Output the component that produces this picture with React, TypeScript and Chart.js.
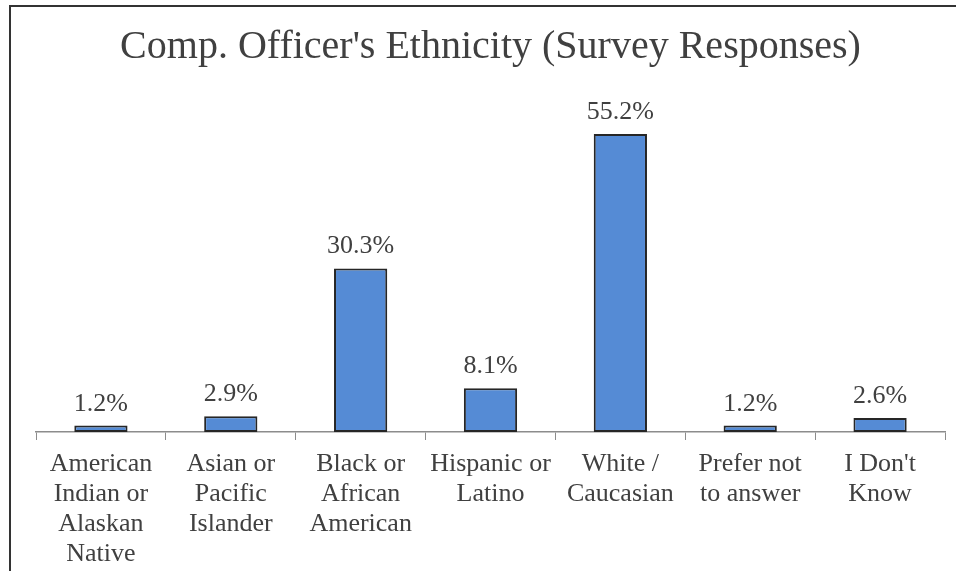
import React, { useEffect, useRef } from "react";
import { Chart, registerables } from "chart.js";

Chart.register(...registerables);

const categories: string[][] = [
  ["American", "Indian or", "Alaskan", "Native"],
  ["Asian or", "Pacific", "Islander"],
  ["Black or", "African", "American"],
  ["Hispanic or", "Latino"],
  ["White /", "Caucasian"],
  ["Prefer not", "to answer"],
  ["I Don't", "Know"],
];
const percentages: number[] = [1.2, 2.9, 30.3, 8.1, 55.2, 1.2, 2.6];
const titleText = "Comp. Officer's Ethnicity (Survey Responses)";

const FONT = "'Liberation Serif', 'Times New Roman', Times, serif";
const TEXT = "#404040";

const labelPlugin = {
  id: "barLabels",
  afterDatasetsDraw(chart: any) {
    const ctx = chart.ctx;
    const meta = chart.getDatasetMeta(0);
    ctx.save();
    ctx.font = `26px ${FONT}`;
    ctx.fillStyle = TEXT;
    ctx.textAlign = "center";
    ctx.textBaseline = "alphabetic";
    meta.data.forEach((bar: any, i: number) => {
      ctx.fillText(percentages[i].toFixed(1) + "%", bar.x, bar.y - 15);
    });
    ctx.restore();
  },
};

export default function App() {
  const ref = useRef<HTMLCanvasElement | null>(null);
  useEffect(() => {
    if (!ref.current) return;
    const chart = new Chart(ref.current, {
      type: "bar",
      data: {
        labels: categories,
        datasets: [
          {
            data: percentages,
            backgroundColor: "#558BD5",
            borderColor: "#262626",
            borderWidth: 2,
            borderSkipped: false,
            categoryPercentage: 1,
            barPercentage: 0.41,
          },
        ],
      },
      options: {
        animation: false,
        responsive: false,
        layout: { padding: { left: 36, right: 11, top: 0, bottom: 0 } },
        plugins: {
          legend: { display: false },
          tooltip: { enabled: false },
          title: {
            display: true,
            text: titleText,
            color: TEXT,
            font: { family: FONT, size: 40, weight: "normal", lineHeight: 1.2 },
            padding: { top: 23, bottom: 37 },
          },
        },
        scales: {
          x: {
            grid: {
              display: true,
              drawOnChartArea: false,
              drawTicks: true,
              tickLength: 8,
              color: "#8c8c8c",
              offset: true,
            },
            border: { display: true, color: "#8c8c8c", width: 1.5 },
            ticks: {
              color: TEXT,
              padding: 9,
              maxRotation: 0,
              autoSkip: false,
              font: { family: FONT, size: 26, lineHeight: 1.154 },
            },
            afterFit: (scale: any) => {
              scale.height = 139;
            },
          },
          y: {
            display: false,
            min: 0,
            max: 60,
          },
        },
      },
      plugins: [labelPlugin],
    });
    return () => chart.destroy();
  }, []);

  return (
    <div style={{ position: "fixed", left: 0, top: 0, width: 956, height: 571, background: "#fff", overflow: "hidden" }}>
      <div
        style={{
          position: "absolute",
          left: 9,
          top: 5,
          width: 1200,
          height: 900,
          borderTop: "2px solid #333",
          borderLeft: "2px solid #333",
        }}
      />
      <canvas ref={ref} width={956} height={571} style={{ position: "absolute", left: 0, top: 0 }} />
    </div>
  );
}
